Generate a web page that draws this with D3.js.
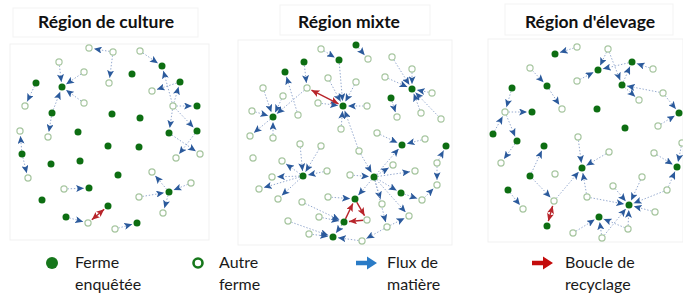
<!DOCTYPE html>
<html>
<head>
<meta charset="utf-8">
<script src="https://cdn.jsdelivr.net/npm/d3@7"></script>
<style>
  html, body { margin: 0; padding: 0; background: #fff; }
  svg { display: block; }
</style>
</head>
<body>
<div id="chart"></div>
<script>
// node = [id, x, y, type]  type: f = ferme enquêtée, o = autre ferme
// link = "a>b" flux de matière, "a=>b" boucle (un sens), "a<=>b" boucle (deux sens)
const panelTitles = ["Région de culture", "Région mixte", "Région d'élevage"];

const cultureNodes = [
  ["c1", 89, 48, "o"], ["c2", 113, 52, "o"], ["c3", 109, 83, "o"], ["c4", 140, 51, "o"],
  ["c5", 162, 66, "f"], ["c6", 180, 82, "f"], ["c7", 152, 91, "o"], ["c8", 173, 106, "o"],
  ["c9", 197, 106, "f"], ["c10", 169, 133, "f"], ["c11", 197, 131, "f"], ["c12", 176, 158, "o"],
  ["c13", 200, 154, "o"], ["c14", 59, 62, "o"], ["c15", 62, 87, "f"], ["c16", 84, 72, "o"],
  ["c17", 84, 103, "o"], ["c18", 52, 113, "f"], ["c19", 48, 137, "o"], ["c20", 36, 83, "f"],
  ["c21", 25, 106, "o"], ["c22", 20, 131, "o"], ["c23", 22, 154, "f"], ["c24", 28, 178, "o"],
  ["c25", 51, 164, "f"], ["c26", 78, 132, "f"], ["c27", 80, 161, "f"], ["c28", 112, 114, "f"],
  ["c29", 140, 118, "f"], ["c30", 108, 146, "f"], ["c31", 139, 147, "f"], ["c32", 118, 175, "f"],
  ["c33", 64, 189, "o"], ["c34", 89, 188, "f"], ["c35", 42, 200, "f"], ["c36", 66, 217, "f"],
  ["c37", 88, 223, "o"], ["c38", 108, 206, "f"], ["c39", 115, 229, "o"], ["c40", 137, 223, "f"],
  ["c41", 169, 192, "f"], ["c42", 152, 172, "o"], ["c43", 191, 183, "o"], ["c44", 139, 197, "o"],
  ["c45", 163, 213, "o"], ["c46", 132, 74, "f"]
];
const cultureLinks = [
  "c2>c1", "c2>c3", "c4>c5", "c8>c5", "c6>c7", "c8>c6", "c8>c9", "c8>c10", "c8>c11",
  "c10>c13", "c11>c12", "c14>c15", "c16>c15", "c17>c15", "c18>c15", "c18>c19", "c20>c21",
  "c23>c22", "c23>c24", "c33>c34", "c36>c37", "c38<=>c37", "c39>c40", "c41>c42", "c43>c41",
  "c44>c41", "c41>c45"
];

const mixteNodes = [
  ["m1", 356, 45, "f"], ["m2", 368, 59, "o"], ["m3", 321, 49, "o"], ["m4", 339, 60, "f"],
  ["m5", 304, 62, "f"], ["m6", 307, 88, "o"], ["m7", 285, 72, "f"], ["m8", 343, 106, "f"],
  ["m9", 328, 78, "o"], ["m10", 356, 82, "o"], ["m11", 318, 103, "o"], ["m12", 367, 106, "o"],
  ["m13", 341, 129, "o"], ["m14", 298, 115, "o"], ["m15", 273, 117, "f"], ["m16", 263, 88, "o"],
  ["m17", 283, 96, "o"], ["m18", 252, 111, "o"], ["m19", 250, 136, "o"], ["m20", 273, 138, "o"],
  ["m21", 412, 89, "f"], ["m22", 392, 57, "o"], ["m23", 412, 69, "o"], ["m24", 385, 77, "o"],
  ["m25", 432, 93, "o"], ["m26", 421, 113, "o"], ["m27", 441, 119, "o"], ["m28", 391, 98, "f"],
  ["m29", 397, 117, "o"], ["m30", 402, 145, "f"], ["m31", 425, 139, "o"], ["m32", 377, 133, "o"],
  ["m33", 446, 146, "f"], ["m34", 437, 163, "o"], ["m35", 437, 185, "o"], ["m36", 422, 200, "o"],
  ["m37", 401, 193, "f"], ["m38", 409, 216, "o"], ["m39", 387, 227, "o"], ["m40", 374, 177, "f"],
  ["m41", 359, 151, "o"], ["m42", 393, 165, "o"], ["m43", 415, 171, "o"], ["m44", 382, 204, "o"],
  ["m45", 367, 220, "o"], ["m46", 350, 175, "o"], ["m47", 327, 171, "o"], ["m48", 303, 176, "f"],
  ["m49", 300, 144, "o"], ["m50", 321, 146, "o"], ["m51", 282, 161, "o"], ["m52", 272, 177, "o"],
  ["m53", 259, 189, "o"], ["m54", 278, 199, "o"], ["m55", 253, 158, "o"], ["m56", 355, 199, "f"],
  ["m57", 328, 197, "o"], ["m58", 344, 222, "f"], ["m59", 319, 217, "o"], ["m60", 302, 202, "o"],
  ["m61", 288, 221, "o"], ["m62", 309, 234, "o"], ["m63", 333, 237, "f"], ["m64", 362, 241, "o"]
];
const mixteLinks = [
  "m1>m2", "m3>m4", "m4>m8", "m5>m6", "m9>m8", "m10>m8", "m6<=>m8", "m11>m8", "m12>m8",
  "m13>m8", "m41>m8", "m14>m7", "m16>m15", "m17>m15", "m6>m15", "m18>m15", "m15>m19", "m20>m15",
  "m22>m21", "m23>m21", "m24>m21", "m25>m21", "m26>m21", "m27>m21", "m28>m29",
  "m31>m30", "m32>m30", "m40>m30", "m34>m33", "m34>m35", "m36>m35", "m37>m36",
  "m40>m37", "m40>m43", "m40>m42", "m41>m40", "m46>m40", "m40>m44", "m40>m39", "m40>m38",
  "m39>m38", "m47>m48", "m49>m48", "m50>m48", "m48>m51", "m48>m52", "m48>m53", "m48>m54",
  "m40>m56", "m57>m56", "m56=>m45", "m45=>m58", "m58=>m56", "m59>m58", "m60>m58",
  "m61>m63", "m62>m63", "m58>m63", "m64>m63", "m39>m64"
];

const elevageNodes = [
  ["e1", 555, 54, "f"], ["e2", 577, 47, "o"], ["e3", 608, 49, "o"], ["e4", 598, 70, "f"],
  ["e5", 632, 62, "f"], ["e6", 653, 69, "o"], ["e7", 577, 81, "o"], ["e8", 622, 85, "f"],
  ["e9", 663, 93, "o"], ["e10", 639, 100, "o"], ["e11", 679, 113, "f"], ["e12", 658, 126, "o"],
  ["e13", 625, 128, "f"], ["e14", 530, 68, "o"], ["e15", 547, 86, "f"], ["e16", 562, 109, "o"],
  ["e17", 512, 88, "f"], ["e18", 505, 112, "o"], ["e19", 532, 112, "f"], ["e20", 597, 109, "f"],
  ["e21", 493, 134, "f"], ["e22", 517, 141, "f"], ["e23", 501, 163, "o"], ["e24", 544, 146, "f"],
  ["e25", 530, 176, "f"], ["e26", 555, 174, "o"], ["e27", 582, 168, "f"], ["e28", 578, 137, "o"],
  ["e29", 609, 152, "o"], ["e30", 554, 201, "o"], ["e31", 547, 226, "f"], ["e32", 508, 190, "f"],
  ["e33", 523, 209, "o"], ["e34", 587, 197, "o"], ["e35", 629, 205, "f"], ["e36", 613, 186, "o"],
  ["e37", 642, 177, "o"], ["e38", 667, 190, "o"], ["e39", 655, 212, "o"], ["e40", 628, 229, "o"],
  ["e41", 599, 217, "f"], ["e42", 573, 233, "o"], ["e43", 602, 238, "o"], ["e44", 654, 153, "o"],
  ["e45", 677, 167, "f"], ["e46", 682, 143, "o"]
];
const elevageLinks = [
  "e2>e1", "e14>e15", "e15>e16", "e18>e19", "e17>e18", "e21>e18", "e18>e22", "e22>e23",
  "e7>e4", "e3>e4", "e3>e8", "e5>e4", "e6>e5", "e8>e5", "e9>e8", "e8>e10", "e9>e11", "e12>e11",
  "e25>e24", "e25>e30", "e30>e27", "e28>e27", "e29>e27", "e34>e27", "e30<=>e31", "e32>e33",
  "e36>e35", "e37>e35", "e34>e35", "e38>e35", "e39>e35", "e40>e35", "e43>e35",
  "e43>e41", "e40>e41", "e42>e41", "e44>e45", "e38>e45", "e46>e45"
];

const legendLabels = [["Ferme", "enquêtée"], ["Autre", "ferme"], ["Flux de", "matière"], ["Boucle de", "recyclage"]];
const legendSymbols = ["filled", "open", "flow", "loop"];

// layout / style
const CONFIG = {
  width: 683,
  height: 294,
  font: "Lato, 'Open Sans', sans-serif",
  panels: [
    { x0: 10, y0: 44, x1: 209, y1: 240 },
    { x0: 238, y0: 40, x1: 452, y1: 245 },
    { x0: 488, y0: 39, x1: 683, y1: 242 }
  ],
  titleBoxes: [
    { x0: 13, y0: 8, x1: 198, y1: 37, cx: 106 },
    { x0: 280, y0: 5, x1: 430, y1: 35, cx: 349 },
    { x0: 505, y0: 4, x1: 673, y1: 35, cx: 590 }
  ],
  titleY: 28,
  titleSize: 17.5,
  nodeR: 3.5,
  filled: "#0d6e12",
  openStroke: "#a9c7a2",
  linkColor: "#94a9cf",
  arrowColor: "#2b5a9c",
  loopColor: "#b8242a",
  legend: { symbolX: [52, 198, 356, 532], textX: [75, 219, 387, 565], row1: 268, row2: 290, size: 16 }
};

const svg = d3.select("#chart").append("svg")
  .attr("width", CONFIG.width)
  .attr("height", CONFIG.height)
  .style("font-family", CONFIG.font);

const x = d3.scaleLinear().domain([0, 683]).range([0, CONFIG.width]);
const y = d3.scaleLinear().domain([0, 294]).range([0, CONFIG.height]);

// arrow markers
const defs = svg.append("defs");
function addMarker(id, color) {
  defs.append("marker")
    .attr("id", id)
    .attr("viewBox", "0 -4 9 8")
    .attr("refX", 9)
    .attr("refY", 0)
    .attr("markerWidth", 8)
    .attr("markerHeight", 7)
    .attr("markerUnits", "userSpaceOnUse")
    .attr("orient", "auto-start-reverse")
    .append("path")
    .attr("d", "M0,-4L9,0L0,4L2,0Z")
    .attr("fill", color);
}
addMarker("arrowBlue", CONFIG.arrowColor);
addMarker("arrowRed", CONFIG.loopColor);

// panel frames + title boxes (very faint in the original)
CONFIG.panels.forEach((p) => {
  svg.append("rect")
    .attr("x", x(p.x0)).attr("y", y(p.y0))
    .attr("width", x(p.x1) - x(p.x0)).attr("height", y(p.y1) - y(p.y0))
    .attr("fill", "none").attr("stroke", "#f1f1f1");
});
CONFIG.titleBoxes.forEach((b, i) => {
  svg.append("rect")
    .attr("x", x(b.x0)).attr("y", y(b.y0))
    .attr("width", x(b.x1) - x(b.x0)).attr("height", y(b.y1) - y(b.y0))
    .attr("fill", "none").attr("stroke", "#f3f3f3");
  svg.append("text")
    .attr("x", x(b.cx)).attr("y", y(CONFIG.titleY))
    .attr("text-anchor", "middle")
    .attr("font-size", CONFIG.titleSize)
    .attr("font-weight", "bold")
    .attr("fill", "#111")
    .text(panelTitles[i]);
});

function parseLink(str) {
  if (str.includes("<=>")) return { ends: str.split("<=>"), kind: "loop", both: true };
  if (str.includes("=>")) return { ends: str.split("=>"), kind: "loop", both: false };
  return { ends: str.split(">"), kind: "flow", both: false };
}

function drawNetwork(nodes, links) {
  const group = svg.append("g");
  const byId = new Map(nodes.map((n) => [n[0], { px: x(n[1]), py: y(n[2]), type: n[3] }]));
  const r = CONFIG.nodeR;

  const linkData = links.map((str) => {
    const l = parseLink(str);
    const a = byId.get(l.ends[0]);
    const b = byId.get(l.ends[1]);
    const dx = b.px - a.px, dy = b.py - a.py;
    const len = Math.hypot(dx, dy) || 1;
    const ux = dx / len, uy = dy / len;
    const startGap = l.both ? r + 1.5 : r;
    const endGap = r + 1.5;
    return {
      ...l,
      x1: a.px + ux * startGap, y1: a.py + uy * startGap,
      x2: b.px - ux * endGap, y2: b.py - uy * endGap
    };
  });

  group.selectAll(".link")
    .data(linkData)
    .join("line")
    .attr("class", "link")
    .attr("x1", (d) => d.x1).attr("y1", (d) => d.y1)
    .attr("x2", (d) => d.x2).attr("y2", (d) => d.y2)
    .attr("stroke", (d) => (d.kind === "loop" ? CONFIG.loopColor : CONFIG.linkColor))
    .attr("stroke-width", (d) => (d.kind === "loop" ? 1.4 : 1))
    .attr("stroke-dasharray", (d) => (d.kind === "loop" ? null : "1.4 1.8"))
    .attr("marker-end", (d) => (d.kind === "loop" ? "url(#arrowRed)" : "url(#arrowBlue)"))
    .attr("marker-start", (d) => (d.both ? "url(#arrowRed)" : null));

  group.selectAll(".node")
    .data(nodes)
    .join("circle")
    .attr("class", "node")
    .attr("cx", (d) => x(d[1]))
    .attr("cy", (d) => y(d[2]))
    .attr("r", (d) => (d[3] === "f" ? r : r - 0.4))
    .attr("fill", (d) => (d[3] === "f" ? CONFIG.filled : "#fff"))
    .attr("stroke", (d) => (d[3] === "f" ? "none" : CONFIG.openStroke))
    .attr("stroke-width", 1.2);
}

drawNetwork(cultureNodes, cultureLinks);
drawNetwork(mixteNodes, mixteLinks);
drawNetwork(elevageNodes, elevageLinks);

// legend
const lg = CONFIG.legend;
const legend = svg.append("g");
legendSymbols.forEach((sym, i) => {
  const sx = lg.symbolX[i];
  const sy = lg.row1 - 5;
  if (sym === "filled") {
    legend.append("circle").attr("cx", sx).attr("cy", sy).attr("r", 6).attr("fill", "#16771b");
  } else if (sym === "open") {
    legend.append("circle").attr("cx", sx).attr("cy", sy).attr("r", 4.5)
      .attr("fill", "#fff").attr("stroke", "#16771b").attr("stroke-width", 2.6);
  } else {
    const color = sym === "flow" ? "#2a7bc6" : "#c40c0c";
    legend.append("path")
      .attr("transform", `translate(${sx},${sy})`)
      .attr("d", "M0,-2.2H11V-6.5L21,0L11,6.5V2.2H0Z")
      .attr("fill", color);
  }
  legend.append("text")
    .attr("x", lg.textX[i]).attr("y", lg.row1)
    .attr("font-size", lg.size).attr("fill", "#1a1a1a")
    .text(legendLabels[i][0]);
  legend.append("text")
    .attr("x", lg.textX[i]).attr("y", lg.row2)
    .attr("font-size", lg.size).attr("fill", "#1a1a1a")
    .text(legendLabels[i][1]);
});
</script>
</body>
</html>
